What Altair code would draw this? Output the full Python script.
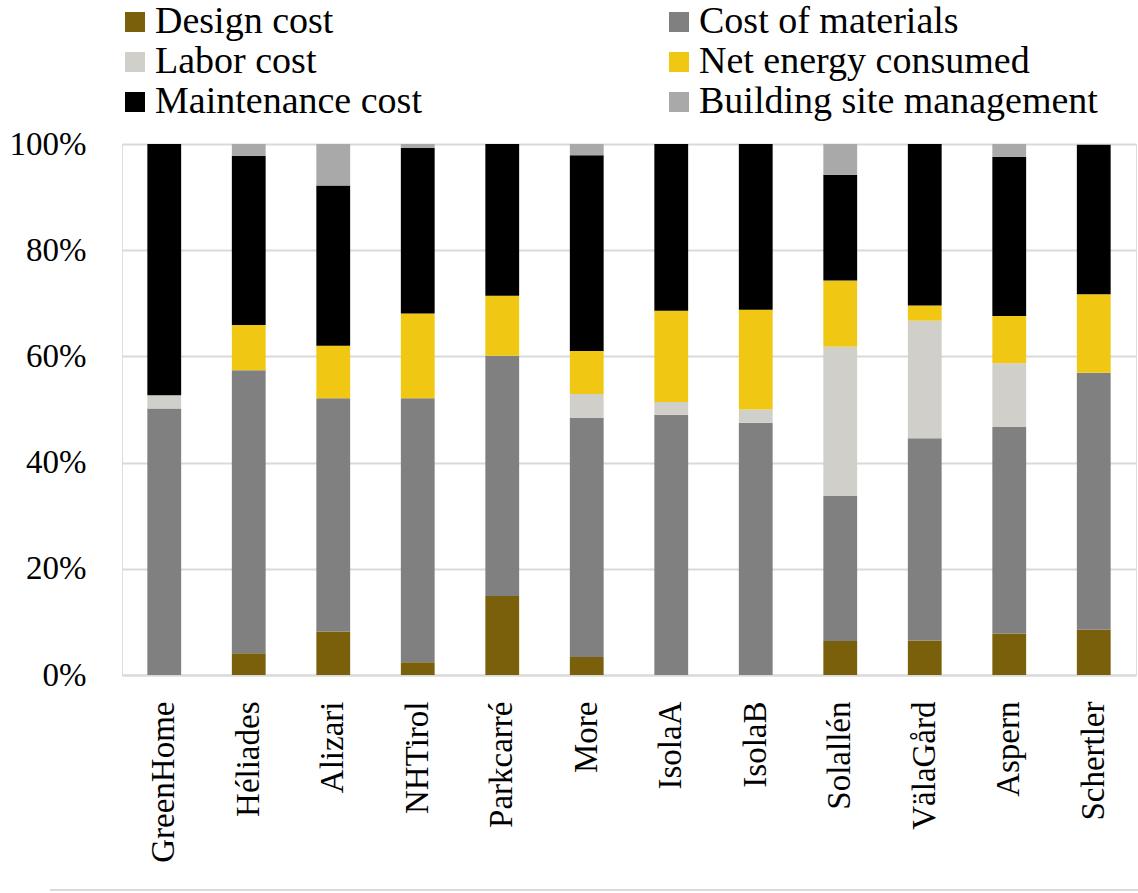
import altair as alt
import pandas as pd

buildings = ["GreenHome", "Héliades", "Alizari", "NHTirol", "Parkcarré", "More",
             "IsolaA", "IsolaB", "Solallén", "VälaGård", "Aspern", "Schertler"]
categories = ["Design cost", "Cost of materials", "Labor cost",
              "Net energy consumed", "Maintenance cost", "Building site management"]
colors = ["#7A600B", "#808080", "#D0CFCA", "#F0C814", "#000000", "#A9A9A9"]
# legend fills column by column, so list entries in column-major order
legend_order = [0, 2, 4, 1, 3, 5]

design      = [0.0, 4.1, 8.2, 2.4, 14.9, 3.4, 0.0, 0.0, 6.4, 6.5, 7.8, 8.5]
materials   = [50.2, 53.3, 43.9, 49.7, 45.2, 45.0, 49.0, 47.5, 27.3, 38.1, 38.9, 48.4]
labor       = [2.5, 0.0, 0.0, 0.0, 0.0, 4.5, 2.4, 2.5, 28.1, 22.1, 12.0, 0.0]
energy      = [0.0, 8.5, 9.9, 16.0, 11.3, 8.1, 17.2, 18.8, 12.5, 2.9, 8.9, 14.8]
maintenance = [47.3, 31.9, 30.2, 31.2, 28.6, 36.9, 31.4, 31.2, 19.9, 30.4, 30.0, 28.1]
site        = [0.0, 2.2, 7.8, 0.7, 0.0, 2.1, 0.0, 0.0, 5.8, 0.0, 2.4, 0.2]

series = [design, materials, labor, energy, maintenance, site]
rows = []
for ci, (cat, vals) in enumerate(zip(categories, series)):
    for b, v in zip(buildings, vals):
        rows.append({"building": b, "category": cat, "value": v, "order": ci})
df = pd.DataFrame(rows)

dom = [categories[i] for i in legend_order]
rng = [colors[i] for i in legend_order]

FONT = "Liberation Serif"
W, H = 1014, 531

bars = alt.Chart(df).mark_bar().encode(
    x=alt.X("building:N", sort=buildings,
            scale=alt.Scale(paddingInner=0.6, paddingOuter=0.3),
            axis=alt.Axis(title=None, labelAngle=-90, labelFont=FONT, labelFontSize=33,
                          labelColor="#000000", labelPadding=26, ticks=False,
                          domainColor="#D9D9D9", domainWidth=2, labelAlign="right",
                          labelBaseline="middle")),
    y=alt.Y("value:Q", stack="normalize",
            scale=alt.Scale(domain=[0, 1], nice=False),
            axis=alt.Axis(title=None, format="%", values=[0, 0.2, 0.4, 0.6, 0.8, 1.0],
                          labelFont=FONT, labelFontSize=33, labelColor="#000000",
                          labelPadding=36, ticks=False, domain=False,
                          gridColor="#D9D9D9", gridWidth=2)),
    color=alt.Color("category:N",
                    scale=alt.Scale(domain=dom, range=rng),
                    legend=alt.Legend(title=None, orient="none", legendX=-6, legendY=-141,
                                      columns=2, columnPadding=238, rowPadding=2,
                                      symbolType="square", symbolSize=400,
                                      symbolStrokeWidth=0, labelFont=FONT,
                                      labelFontSize=38, labelColor="#000000",
                                      labelOffset=1, labelLimit=500)),
    order=alt.Order("order:Q", sort="ascending"),
)

bottom_line = alt.Chart(pd.DataFrame({"v": [0]})).mark_rule(
    color="#D9D9D9", strokeWidth=2).encode(
    x=alt.value(-72), x2=alt.value(W + 2), y=alt.value(746))

chart = alt.layer(bars, bottom_line).properties(
    width=W, height=H,
    autosize=alt.AutoSizeParams(type="none"),
    padding={"left": 122, "top": 144, "right": 2, "bottom": 218},
).configure_view(stroke=None).configure(background="#FFFFFF")

chart.save("out.html", embed_options={"renderer": "svg", "actions": False})
